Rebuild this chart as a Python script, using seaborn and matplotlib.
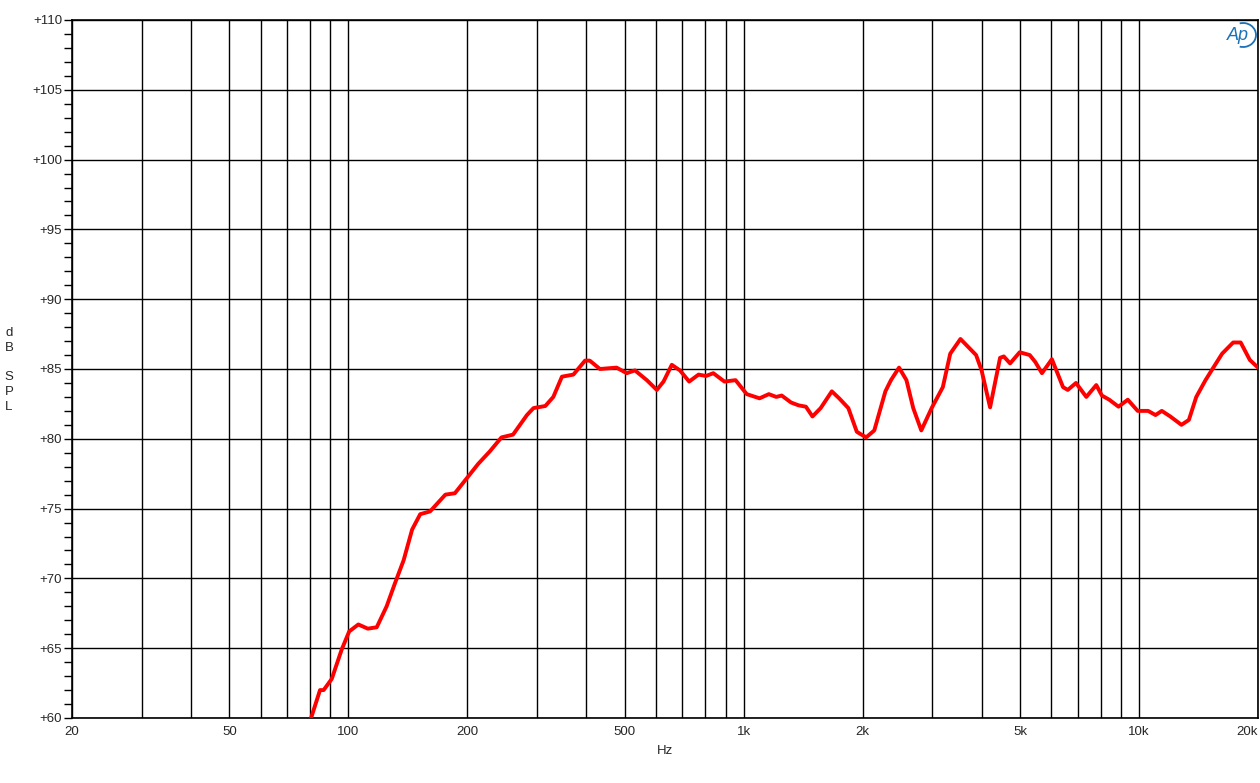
import matplotlib
matplotlib.use("Agg")
import matplotlib.pyplot as plt
import seaborn as sns
import pandas as pd
import numpy as np
from matplotlib.ticker import FixedLocator, NullLocator, NullFormatter
from matplotlib.patches import Arc

freq_hz = [80.5, 84.8, 86.6, 90.8, 96.2, 100.5, 106, 112, 118, 125, 131, 138, 145, 152, 161,
           176, 186, 201, 213, 228, 244, 261, 283, 294, 315, 330, 347, 371, 397, 408, 433,
           477, 506, 531, 569, 603, 627, 658, 690, 728, 769, 803, 838, 894, 954, 1018, 1097,
           1158, 1209, 1248, 1318, 1376, 1437, 1493, 1566, 1671, 1744, 1840, 1933, 2041, 2140,
           2283, 2358, 2472, 2581, 2685, 2814, 2989, 3190, 3331, 3535, 3872, 3998, 4201, 4452,
           4550, 4720, 4991, 5292, 5467, 5682, 6021, 6425, 6605, 6928, 7357, 7798, 8056, 8411,
           8875, 9368, 9925, 10545, 11010, 11420, 12000, 12805, 13370, 13960, 14730, 15380,
           16230, 17310, 18080, 19070, 20000]
spl_db = [60.0, 62.0, 62.0, 62.8, 64.9, 66.2, 66.7, 66.4, 66.5, 68.0, 69.6, 71.3, 73.5, 74.6, 74.8,
          76.0, 76.1, 77.3, 78.2, 79.1, 80.1, 80.3, 81.7, 82.2, 82.35, 83.0, 84.45, 84.6, 85.6, 85.6, 85.0,
          85.1, 84.7, 84.9, 84.2, 83.5, 84.1, 85.3, 84.9, 84.1, 84.6, 84.5, 84.7, 84.1, 84.2, 83.2, 82.9,
          83.2, 83.0, 83.1, 82.6, 82.4, 82.3, 81.6, 82.2, 83.4, 82.9, 82.2, 80.5, 80.1, 80.6,
          83.4, 84.2, 85.1, 84.2, 82.2, 80.6, 82.2, 83.7, 86.1, 87.15, 86.0, 84.9, 82.25, 85.8,
          85.9, 85.4, 86.2, 86.0, 85.5, 84.7, 85.7, 83.7, 83.5, 84.0, 83.0, 83.85, 83.1, 82.8,
          82.3, 82.8, 82.0, 82.0, 81.7, 82.0, 81.6, 81.0, 81.35, 83.0, 84.2, 85.05,
          86.1, 86.9, 86.9, 85.65, 85.1]

x_grid = [20, 30, 40, 50, 60, 70, 80, 90, 100, 200, 300, 400, 500, 600, 700, 800, 900,
          1000, 2000, 3000, 4000, 5000, 6000, 7000, 8000, 9000, 10000, 20000]
x_tick_vals = [20, 50, 100, 200, 500, 1000, 2000, 5000, 10000, 20000]
x_tick_labels = ["20", "50", "100", "200", "500", "1k", "2k", "5k", "10k", "20k"]
y_tick_vals = [60, 65, 70, 75, 80, 85, 90, 95, 100, 105, 110]
y_tick_labels = ["+60", "+65", "+70", "+75", "+80", "+85", "+90", "+95", "+100", "+105", "+110"]

sns.set_style("white")
plt.rcParams['font.family'] = ['Liberation Sans', 'DejaVu Sans']

fig = plt.figure(figsize=(12.6, 7.83), dpi=100)
ax = fig.add_axes([72/1260, 65/783, 1186/1260, 698/783])

df = pd.DataFrame({"Hz": freq_hz, "dB": spl_db})
sns.lineplot(data=df, x="Hz", y="dB", ax=ax, color="#ff0000", linewidth=2.8, zorder=5)

ax.set_xscale("log")
ax.set_xlim(20, 20000)
ax.set_ylim(60, 110)

for xv in x_grid:
    ax.axvline(xv, color="black", linewidth=1.0, zorder=1)
for yv in y_tick_vals:
    ax.axhline(yv, color="black", linewidth=1.0, zorder=1)

ax.xaxis.set_major_locator(FixedLocator(x_tick_vals))
ax.set_xticklabels(x_tick_labels)
ax.xaxis.set_minor_locator(NullLocator())
ax.xaxis.set_minor_formatter(NullFormatter())
ax.tick_params(axis="x", which="both", length=0, labelsize=9.5, pad=6, bottom=False)
labs = ax.get_xticklabels()
labs[-1].set_horizontalalignment("right")
labs[-1].set_x(labs[-1].get_position()[0])

ax.yaxis.set_major_locator(FixedLocator(y_tick_vals))
ax.set_yticklabels(y_tick_labels)
ax.yaxis.set_minor_locator(FixedLocator([v for v in range(60, 111) if v % 5 != 0]))
ax.tick_params(axis="y", which="both", left=True, length=6, width=1, direction="out",
               color="black")
ax.tick_params(axis="y", which="major", labelsize=9.5, pad=1)

for sp in ax.spines.values():
    sp.set_color("black")
    sp.set_linewidth(1.2)

ax.set_xlabel("")
ax.set_ylabel("")
fig.text(665/1260, 1 - 751/783, "Hz", ha="center", va="center", fontsize=9.5)
fig.text(9/1260, 1 - 370/783, "d\nB\n\nS\nP\nL", ha="center", va="center", fontsize=9.5,
         linespacing=1.3)

fig.text(1238/1260, 1 - 36/783, "Ap", ha="center", va="center", fontsize=13,
         style="italic", color="#1a72b8")
fig.patches.append(Arc((1243/1260, 1 - 35/783), 26/1260, 24/783, theta1=-100, theta2=100,
                       transform=fig.transFigure, color="#1a72b8", linewidth=1.3))

fig.savefig("out.png", dpi=100)
